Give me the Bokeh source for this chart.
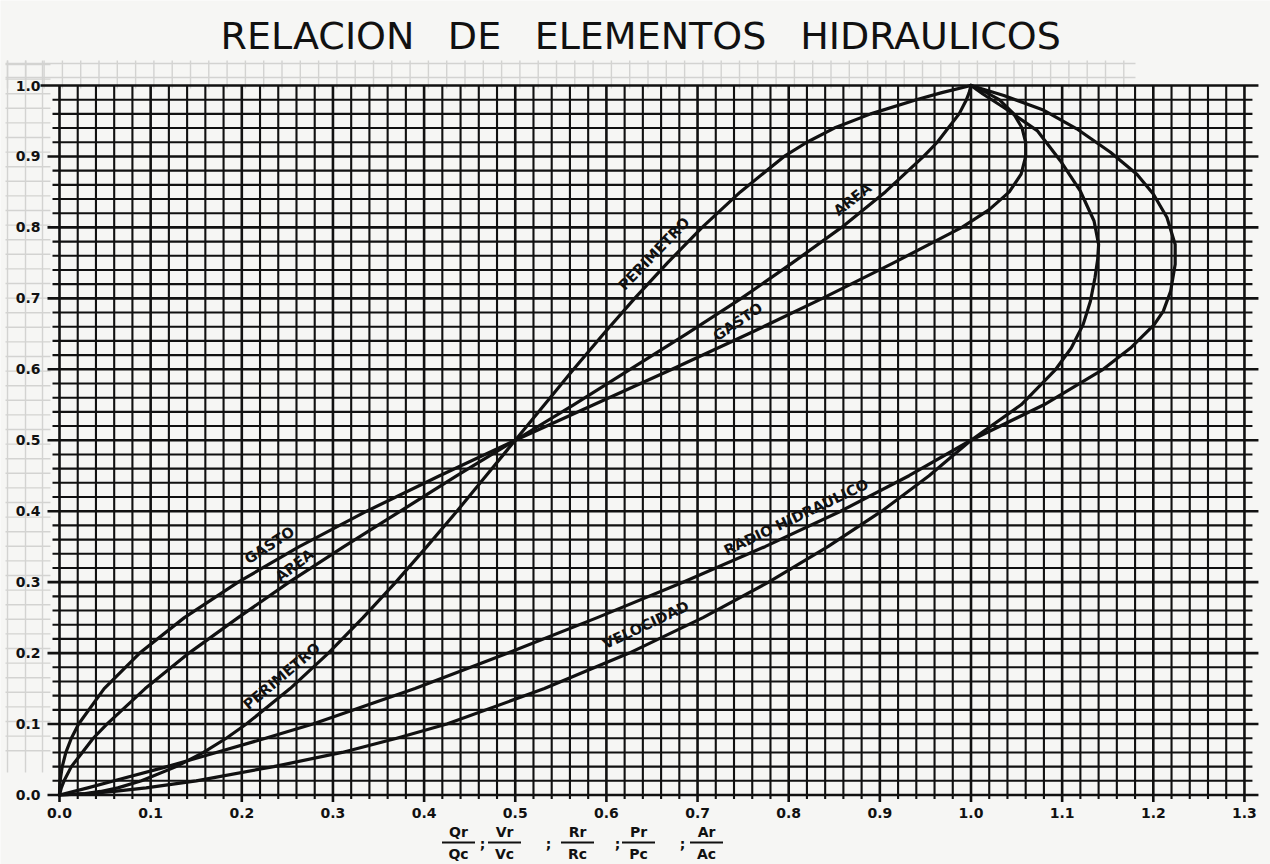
import math

from bokeh.plotting import figure
from bokeh.models import Range1d
from bokeh.embed import file_html
from bokeh.resources import INLINE
from bokeh.core.properties import value

# ---------------------------------------------------------------------------
# Hydraulic element ratios of a partly filled circular conduit.
# Vertical axis: relative depth d/D.  Horizontal axis: ratio partial / full.
# ---------------------------------------------------------------------------

# Gasto (discharge) Qr/Qc
gasto_y = [0, 0.01, 0.02, 0.04, 0.06, 0.08, 0.10, 0.15, 0.20, 0.25,
           0.30, 0.35, 0.40, 0.45, 0.50, 0.55, 0.60, 0.65, 0.70, 0.75,
           0.80, 0.825, 0.85, 0.875, 0.90, 0.92, 0.94, 0.96, 0.98, 0.99,
           1.00]
gasto_x = [0, 0.0002, 0.0007, 0.003, 0.007, 0.013, 0.021, 0.049, 0.088, 0.137,
           0.196, 0.263, 0.337, 0.417, 0.500, 0.586, 0.672, 0.756, 0.837, 0.915,
           0.990, 1.020, 1.042, 1.055, 1.060, 1.060, 1.056, 1.047, 1.031, 1.017,
           1.000]

# Area Ar/Ac
area_y = [0, 0.01, 0.02, 0.04, 0.06, 0.08, 0.10, 0.15, 0.20, 0.25,
          0.30, 0.35, 0.40, 0.45, 0.50, 0.55, 0.60, 0.65, 0.70, 0.75,
          0.80, 0.85, 0.90, 0.92, 0.94, 0.96, 0.98, 0.99, 1.00]
area_x = [0, 0.002, 0.005, 0.013, 0.025, 0.037, 0.052, 0.094, 0.142, 0.196,
          0.252, 0.312, 0.374, 0.436, 0.500, 0.564, 0.626, 0.688, 0.748, 0.804,
          0.858, 0.906, 0.948, 0.963, 0.975, 0.987, 0.995, 0.998, 1.000]

# Perimetro (wetted perimeter) Pr/Pc
perim_y = [0, 0.002, 0.005, 0.01, 0.02, 0.04, 0.06, 0.08, 0.10, 0.15,
           0.20, 0.25, 0.30, 0.35, 0.40, 0.45, 0.50, 0.55, 0.60, 0.65,
           0.70, 0.75, 0.80, 0.85, 0.90, 0.92, 0.94, 0.96, 0.98, 0.99,
           1.00]
perim_x = [0, 0.028, 0.045, 0.064, 0.090, 0.128, 0.158, 0.183, 0.205, 0.253,
           0.295, 0.333, 0.369, 0.403, 0.436, 0.468, 0.500, 0.532, 0.564, 0.597,
           0.631, 0.667, 0.705, 0.747, 0.795, 0.820, 0.850, 0.890, 0.940, 0.968,
           1.000]

# Velocidad (velocity) Vr/Vc
vel_y = [0, 0.002, 0.005, 0.01, 0.02, 0.04, 0.06, 0.08, 0.10, 0.15,
         0.20, 0.25, 0.30, 0.35, 0.40, 0.45, 0.50, 0.55, 0.60, 0.63,
         0.663, 0.696, 0.729, 0.755, 0.776, 0.809, 0.851, 0.894, 0.936, 0.969,
         0.988, 1.00]
vel_x = [0, 0.032, 0.060, 0.095, 0.150, 0.235, 0.310, 0.370, 0.425, 0.532,
         0.625, 0.706, 0.778, 0.843, 0.902, 0.954, 1.000, 1.055, 1.093, 1.110,
         1.123, 1.131, 1.136, 1.139, 1.140, 1.135, 1.120, 1.098, 1.073, 1.036,
         1.013, 1.000]

# Radio hidraulico (hydraulic radius) Rr/Rc
radio_y = [0, 0.01, 0.02, 0.04, 0.06, 0.08, 0.10, 0.15, 0.20, 0.25,
           0.30, 0.35, 0.40, 0.45, 0.50, 0.55, 0.60, 0.63, 0.663, 0.682,
           0.71, 0.748, 0.776, 0.814, 0.847, 0.875, 0.906, 0.939, 0.965, 0.986,
           1.00]
radio_x = [0, 0.031, 0.060, 0.118, 0.172, 0.226, 0.278, 0.390, 0.492, 0.590,
           0.684, 0.774, 0.857, 0.932, 1.000, 1.080, 1.145, 1.175, 1.201, 1.211,
           1.219, 1.224, 1.224, 1.215, 1.200, 1.182, 1.153, 1.116, 1.080, 1.036,
           1.000]

# axis ticks
x_major = [0.0, 0.1, 0.2, 0.3, 0.4, 0.5, 0.6, 0.7, 0.8, 0.9, 1.0, 1.1, 1.2, 1.3]
x_labels = ["0.0", "0.1", "0.2", "0.3", "0.4", "0.5", "0.6", "0.7", "0.8",
            "0.9", "1.0", "1.1", "1.2", "1.3"]
y_major = [0.0, 0.1, 0.2, 0.3, 0.4, 0.5, 0.6, 0.7, 0.8, 0.9, 1.0]
y_labels = ["0.0", "0.1", "0.2", "0.3", "0.4", "0.5", "0.6", "0.7", "0.8",
            "0.9", "1.0"]
grid_step = 0.02

# curve captions: text, position along the curve, slope angle (deg)
cap_text = ["PERIMETRO", "AREA", "GASTO", "GASTO", "AREA", "PERIMETRO",
            "RADIO HIDRAULICO", "VELOCIDAD"]
cap_x = [0.657, 0.874, 0.748, 0.234, 0.262, 0.248, 0.811, 0.646]
cap_y = [0.757, 0.833, 0.660, 0.345, 0.317, 0.161, 0.384, 0.232]
cap_ang = [46, 38, 34, 33, 37, 40, 25.5, 25]

# title words and fraction legend under the horizontal axis
title_words = ["RELACION", "DE", "ELEMENTOS", "HIDRAULICOS"]
num_text = ["Qr", "Vr", "Rr", "Pr", "Ar"]
den_text = ["Qc", "Vc", "Rc", "Pc", "Ac"]

# ---------------------------------------------------------------------------
# page geometry (pixels) -> data coordinates
W, H = 1270, 864
X0_PX, PX_PER_X = 59.0, 911.5      # x = 0 position, pixels per unit
Y0_PX, PX_PER_Y = 794.5, 709.5     # y = 0 position (from top), pixels per unit


def dx(px):
    return (px - X0_PX) / PX_PER_X


def dy(py):
    return (Y0_PX - py) / PX_PER_Y


INK = "#111111"
PAPER = "#f6f6f4"
GHOST = "#d3d3d1"
FONT = value("DejaVu Sans")

p = figure(width=W, height=H, output_backend="svg", toolbar_location=None,
           x_range=Range1d(dx(0), dx(W)), y_range=Range1d(dy(H), dy(0)),
           min_border=0, x_axis_type=None, y_axis_type=None)
p.outline_line_color = None
p.grid.visible = False
p.background_fill_color = PAPER
p.border_fill_color = PAPER

# faint show-through grid of the reverse side in the margins
gx = [dx(7 + 18.3 * i) for i in range(62)]
p.segment(x0=gx, y0=[dy(88)] * len(gx), x1=gx, y1=[dy(60)] * len(gx),
          line_color=GHOST, line_width=1.4)
gy_top = [dy(63), dy(77)]
p.segment(x0=[dx(5)] * 2, y0=gy_top, x1=[dx(1135)] * 2, y1=gy_top,
          line_color=GHOST, line_width=1.4)
gl = [dx(7), dx(25), dx(42)]
p.segment(x0=gl, y0=[dy(60)] * 3, x1=gl, y1=[dy(772)] * 3,
          line_color=GHOST, line_width=1.4)
gh = [dy(64 + 14.6 * i) for i in range(48)]
p.segment(x0=[dx(5)] * len(gh), y0=gh, x1=[dx(50)] * len(gh), y1=gh,
          line_color=GHOST, line_width=1.4)

# ---------------------------------------------------------------------------
# graph paper: a line every 0.02, heavier every 0.1; ticks stick out
n_x = int(round(1.3 / grid_step)) + 1
n_y = int(round(1.0 / grid_step)) + 1
vx = [round(i * grid_step, 2) for i in range(n_x)]
hy = [round(i * grid_step, 2) for i in range(n_y)]


def is_major(v):
    return abs(v * 10 - round(v * 10)) < 1e-6


vx_maj = [v for v in vx if is_major(v)]
vx_min = [v for v in vx if not is_major(v)]
hy_maj = [v for v in hy if is_major(v)]
hy_min = [v for v in hy if not is_major(v)]

p.segment(x0=vx_min, y0=[-4 / PX_PER_Y] * len(vx_min), x1=vx_min,
          y1=[1.0] * len(vx_min), line_color=INK, line_width=2.1)
p.segment(x0=vx_maj, y0=[-7 / PX_PER_Y] * len(vx_maj), x1=vx_maj,
          y1=[1.0] * len(vx_maj), line_color=INK, line_width=2.6)
p.segment(x0=[-7 / PX_PER_X] * len(hy_min), y0=hy_min,
          x1=[1.3 + 8 / PX_PER_X] * len(hy_min), y1=hy_min,
          line_color=INK, line_width=2.1)
p.segment(x0=[-(19 if v == 1.0 else 12) / PX_PER_X for v in hy_maj], y0=hy_maj,
          x1=[1.3 + 14 / PX_PER_X] * len(hy_maj), y1=hy_maj,
          line_color=INK, line_width=2.6)

# tick labels
p.text(x=x_major, y=[dy(812)] * len(x_major), text=x_labels,
       text_font=FONT, text_font_size="14px", text_font_style="bold",
       text_align="center", text_baseline="middle", text_color=INK)
p.text(x=[dx(40)] * len(y_major), y=y_major, text=y_labels,
       text_font=FONT, text_font_size="14px", text_font_style="bold",
       text_align="right", text_baseline="middle", text_color=INK)

# ---------------------------------------------------------------------------
# the five curves
for xs, ys in [(gasto_x, gasto_y), (area_x, area_y), (perim_x, perim_y),
               (vel_x, vel_y), (radio_x, radio_y)]:
    p.line(xs, ys, line_color=INK, line_width=3.2, line_join="round",
           line_cap="round")

# captions sit a little above their curve (shifted along the normal)
LIFT = 6.0
cx = [x - math.sin(math.radians(a)) * LIFT / PX_PER_X
      for x, a in zip(cap_x, cap_ang)]
cy = [y + math.cos(math.radians(a)) * LIFT / PX_PER_Y
      for y, a in zip(cap_y, cap_ang)]
p.text(x=cx, y=cy, text=cap_text, angle=cap_ang, angle_units="deg",
       text_font=FONT, text_font_size="14.5px", text_font_style="bold",
       text_align="center", text_baseline="middle", text_color=INK)

# ---------------------------------------------------------------------------
# title, one word at a time for the widely spaced lettering
p.text(x=[dx(317), dx(474), dx(650), dx(930)], y=[dy(35)] * 4,
       text=title_words, text_font=FONT, text_font_size="38px",
       text_align="center", text_baseline="middle", text_color=INK)

# fraction legend: numerators, bars, denominators, separators
frac_cx = [dx(458), dx(504), dx(577), dx(638), dx(706)]
bar_half = 16.5 / PX_PER_X
p.text(x=frac_cx, y=[dy(831)] * 5, text=num_text, text_font=FONT,
       text_font_size="14px", text_font_style="bold", text_align="center",
       text_baseline="middle", text_color=INK)
p.text(x=frac_cx, y=[dy(853)] * 5, text=den_text, text_font=FONT,
       text_font_size="14px", text_font_style="bold", text_align="center",
       text_baseline="middle", text_color=INK)
p.segment(x0=[c - bar_half for c in frac_cx], y0=[dy(842)] * 5,
          x1=[c + bar_half for c in frac_cx], y1=[dy(842)] * 5,
          line_color=INK, line_width=1.8)
p.text(x=[dx(482), dx(548), dx(617), dx(682)], y=[dy(843)] * 4,
       text=[";", ";", ";", ";"], text_font=FONT, text_font_size="14px",
       text_font_style="bold", text_align="center", text_baseline="middle",
       text_color=INK)

open("out.html", "w").write(file_html(p, INLINE))
